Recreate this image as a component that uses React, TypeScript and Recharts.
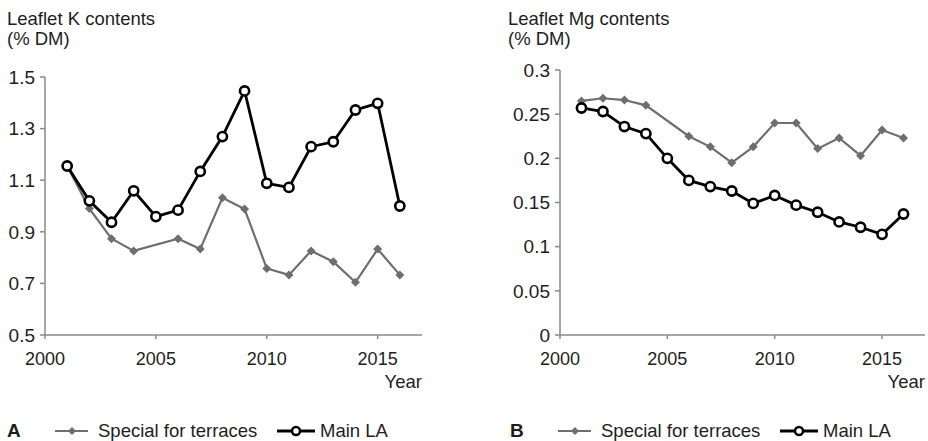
import React from "react";
import { LineChart, Line, XAxis, YAxis } from "recharts";

const years = [2001, 2002, 2003, 2004, 2005, 2006, 2007, 2008, 2009, 2010, 2011, 2012, 2013, 2014, 2015, 2016];

const kSpecial = [1.155, 0.99, 0.873, 0.826, null, 0.873, 0.833, 1.032, 0.988, 0.758, 0.733, 0.826, 0.784, 0.704, 0.833, 0.733];
const kMain = [1.155, 1.02, 0.937, 1.059, 0.959, 0.984, 1.134, 1.269, 1.446, 1.088, 1.072, 1.23, 1.249, 1.372, 1.398, 1.0];

const mgSpecial = [0.265, 0.268, 0.266, 0.26, null, 0.225, 0.213, 0.195, 0.213, 0.24, 0.24, 0.211, 0.223, 0.203, 0.232, 0.223];
const mgMain = [0.257, 0.253, 0.236, 0.228, 0.2, 0.175, 0.168, 0.163, 0.149, 0.158, 0.147, 0.139, 0.128, 0.122, 0.114, 0.137];

const xTicks = [2000, 2005, 2010, 2015];
const kTicks = [0.5, 0.7, 0.9, 1.1, 1.3, 1.5];
const mgTicks = [0, 0.05, 0.1, 0.15, 0.2, 0.25, 0.3];

const seriesNames = ["Special for terraces", "Main LA"];

const kData = years.map((y, i) => ({ year: y, special: kSpecial[i], main: kMain[i] }));
const mgData = years.map((y, i) => ({ year: y, special: mgSpecial[i], main: mgMain[i] }));

const FONT = "'Liberation Sans', Arial, Helvetica, sans-serif";
const GRAY = "#6e6e6e";
const AXIS = "#8a8a8a";
const TEXT = "#1e1e1e";

const Diamond = (props: any) => {
  const { cx, cy, index } = props;
  if (cx == null || cy == null || props.value == null) return <g key={`d${index}`} />;
  const r = 4.5;
  return (
    <path
      key={`d${index}`}
      d={`M${cx},${cy - r}L${cx + r},${cy}L${cx},${cy + r}L${cx - r},${cy}Z`}
      fill={GRAY}
      stroke="none"
    />
  );
};

const Circle = (props: any) => {
  const { cx, cy, index } = props;
  if (cx == null || cy == null) return <g key={`c${index}`} />;
  return <circle key={`c${index}`} cx={cx} cy={cy} r={4.6} fill="#fff" stroke="#000" strokeWidth={2.6} />;
};

function Panel({ data, ticks, domain, yWidth, left, width, top, right, fmt }: any) {
  return (
    <div style={{ position: "absolute", left, top: 0 }}>
      <LineChart width={width} height={441} data={data} margin={{ top, right, bottom: 76, left: 0 }}>
        <XAxis
          dataKey="year"
          type="number"
          domain={[2000, 2017]}
          ticks={xTicks}
          height={30}
          tickSize={4}
          tickMargin={13}
          stroke={AXIS}
          strokeWidth={1.5}
          tick={{ fill: TEXT, fontSize: 18, fontFamily: FONT }}
          allowDataOverflow
        />
        <YAxis
          type="number"
          domain={domain}
          ticks={ticks}
          width={yWidth}
          tickSize={5}
          tickMargin={5}
          stroke={AXIS}
          strokeWidth={1.5}
          tickFormatter={fmt}
          tick={{ fill: TEXT, fontSize: 19, fontFamily: FONT }}
          allowDataOverflow
        />
        <Line
          dataKey="special"
          stroke={GRAY}
          strokeWidth={2.2}
          dot={Diamond}
          connectNulls
          isAnimationActive={false}
        />
        <Line
          dataKey="main"
          stroke="#000"
          strokeWidth={2.8}
          dot={Circle}
          isAnimationActive={false}
        />
      </LineChart>
    </div>
  );
}

function LegendRow({ x, letter }: { x: number; letter: string }) {
  return (
    <g fontFamily={FONT} fill={TEXT}>
      <text x={x} y={437} fontSize={19} fontWeight="bold">{letter}</text>
      <line x1={x + 48} x2={x + 81} y1={431} y2={431} stroke={GRAY} strokeWidth={2} />
      <path d={`M${x + 65},${427}L${x + 69},${431}L${x + 65},${435}L${x + 61},${431}Z`} fill={GRAY} />
      <text x={x + 91} y={437} fontSize={18.5}>{seriesNames[0]}</text>
      <line x1={x + 270} x2={x + 308} y1={431} y2={431} stroke="#000" strokeWidth={3} />
      <circle cx={x + 289} cy={431} r={4} fill="#fff" stroke="#000" strokeWidth={2.5} />
      <text x={x + 313} y={437} fontSize={18.5}>{seriesNames[1]}</text>
    </g>
  );
}

export default function App() {
  const fmtK = (v: number) => String(v);
  const fmtMg = (v: number) => String(v);
  return (
    <div style={{ position: "absolute", left: 0, top: 0, width: 928, height: 441, background: "#fff", overflow: "hidden" }}>
      <Panel data={kData} ticks={kTicks} domain={[0.5, 1.5]} yWidth={45} left={0} width={430} top={77} right={8} fmt={fmtK} />
      <Panel data={mgData} ticks={mgTicks} domain={[0, 0.3]} yWidth={90} left={470} width={458} top={70} right={3} fmt={fmtMg} />
      <svg width={928} height={441} style={{ position: "absolute", left: 0, top: 0, pointerEvents: "none" }}>
        <g fontFamily={FONT} fill={TEXT} fontSize={18.5}>
          <text x={7} y={25}>Leaflet K contents</text>
          <text x={7} y={45}>(% DM)</text>
          <text x={508} y={25}>Leaflet Mg contents</text>
          <text x={508} y={45}>(% DM)</text>
          <text x={422} y={388} textAnchor="end">Year</text>
          <text x={925} y={388} textAnchor="end">Year</text>
        </g>
        <LegendRow x={7} letter="A" />
        <LegendRow x={510} letter="B" />
      </svg>
    </div>
  );
}
